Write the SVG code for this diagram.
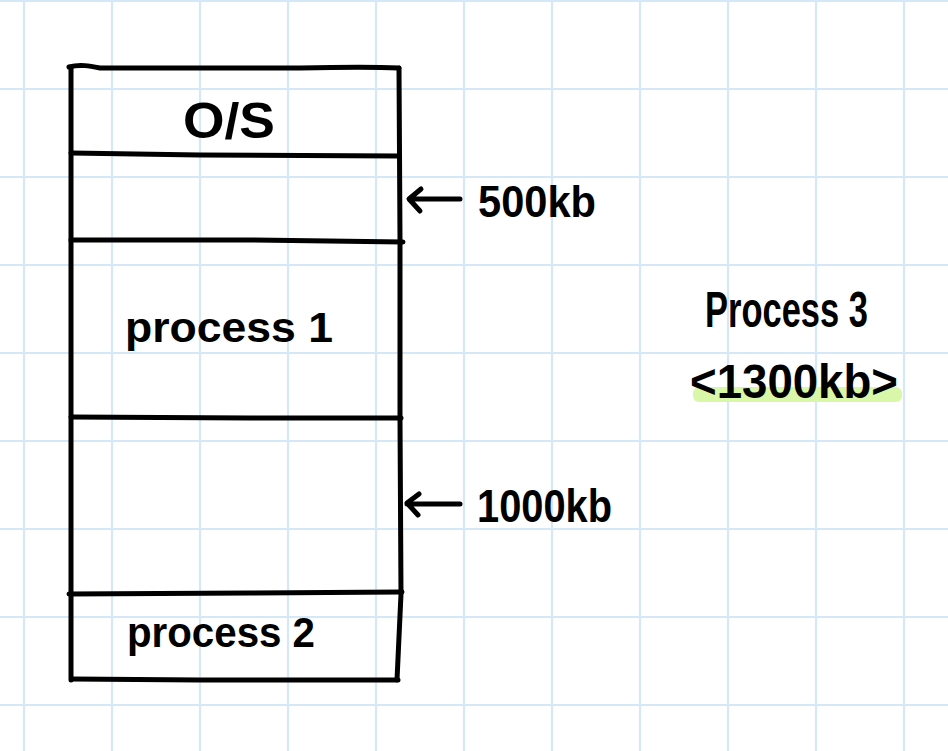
<svg xmlns="http://www.w3.org/2000/svg" width="948" height="751" viewBox="0 0 948 751">
<style>
.grid{stroke:#d4e8f8;stroke-width:2.2}
.ink{fill:none;stroke:#000;stroke-width:5;stroke-linecap:round;stroke-linejoin:round}
.t{font-family:"Liberation Sans","DejaVu Sans",sans-serif;font-weight:bold;fill:#000}
</style>
<rect width="948" height="751" fill="#fff"/>
<g id="grid">
<path class="grid" d="M24 0V751M112 0V751M200 0V751M288 0V751M376 0V751M464 0V751M552 0V751M640 0V751M728 0V751M816 0V751M904 0V751M0 1H948M0 89H948M0 177H948M0 265H948M0 353H948M0 441H948M0 529H948M0 617H948M0 705H948"/>
</g>
<g id="memory">
<path class="ink" d="M69 67C80 64 90 66 100 68L300 68C340 67 380 67 399 68"/>
<path class="ink" d="M71 68L71 680"/>
<path class="ink" d="M399 68L400 240L400 420L401 594L397 680"/>
<path class="ink" d="M72 679L200 680L398 680"/>
</g>
<g id="os">
<path class="ink" d="M71 153L200 155L399 156"/>
<text class="t" x="183" y="138" font-size="50" textLength="92" lengthAdjust="spacingAndGlyphs">O/S</text>
</g>
<g id="free500">
<path class="ink" d="M71 240L250 240L403 242"/>
</g>
<g id="process1">
<path class="ink" d="M71 417L250 418L401 418"/>
<text class="t" x="125" y="342" font-size="42" textLength="208" lengthAdjust="spacingAndGlyphs">process 1</text>
</g>
<g id="free1000">
<path class="ink" d="M69 594L250 593L402 592"/>
</g>
<g id="process2">
<text class="t" x="127" y="647" font-size="42" textLength="188" lengthAdjust="spacingAndGlyphs">process 2</text>
</g>
<g id="connectors">
<path class="ink" d="M460 199L410 199M421 189L409 199L420 211"/>
<path class="ink" d="M460 504L407 504M419 494L407 503L418 515"/>
</g>
<g id="label500">
<text class="t" x="478" y="217" font-size="44" textLength="118" lengthAdjust="spacingAndGlyphs">500kb</text>
</g>
<g id="label1000">
<text class="t" x="477" y="522" font-size="46" textLength="135" lengthAdjust="spacingAndGlyphs">1000kb</text>
</g>
<g id="process3">
<rect x="693" y="387" width="209" height="15" rx="6" fill="#d9f7a8"/>
<text class="t" x="705" y="327" font-size="50" textLength="163" lengthAdjust="spacingAndGlyphs">Process 3</text>
<text class="t" x="690" y="398" font-size="48" textLength="208" lengthAdjust="spacingAndGlyphs">&lt;1300kb&gt;</text>
</g>
</svg>
